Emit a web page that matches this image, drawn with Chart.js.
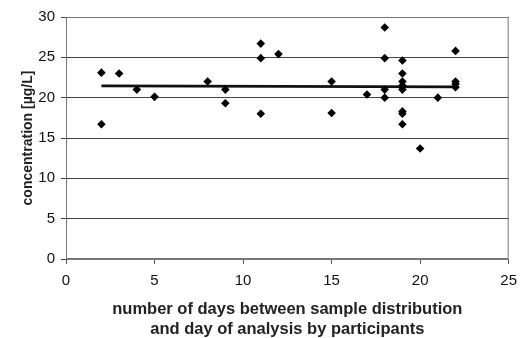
<!DOCTYPE html>
<html><head><meta charset="utf-8">
<script src="https://cdn.jsdelivr.net/npm/chart.js@4/dist/chart.umd.min.js"></script>
<style>html,body{margin:0;padding:0;background:#fff}#wrap{width:525px;height:338px}</style>
</head><body><div id="wrap"><canvas id="c" width="525" height="338"></canvas></div>
<script>
const days = [2,2,3,4,5,8,9,9,11,11,11,12,15,15,17,18,18,18,18,19,19,19,19,19,19,19,19,20,21,22,22,22,22];
const concentration = [23.1,16.7,23.0,21.0,20.1,22.0,21.0,19.3,26.7,24.9,18.0,25.4,22.0,18.1,20.4,28.7,24.9,21.0,20.0,24.6,23.0,22.0,21.0,21.5,18.3,18.0,16.7,13.7,20.0,25.8,22.0,21.7,21.3];
const trendX = [2,22];
const trendY = [21.45,21.35];
const xTicks = [0,5,10,15,20,25];
const yTicks = [0,5,10,15,20,25,30];

const scatterPts = days.map((d,i)=>({x:d,y:concentration[i]}));
const trendPts = trendX.map((d,i)=>({x:d,y:trendY[i]}));

const boxPlugin = {id:'box',afterDraw(ch){const a=ch.chartArea,c=ch.ctx;c.save();c.strokeStyle='#777';c.lineWidth=1;c.strokeRect(a.left+0.5,a.top+0.5,a.right-a.left-1,a.bottom-a.top-1);c.restore();}};

new Chart(document.getElementById('c'),{
  type:'scatter',
  data:{datasets:[
    {data:trendPts,showLine:true,borderColor:'#111',borderWidth:2.8,pointRadius:0,order:2},
    {data:scatterPts,pointStyle:'rectRot',pointRadius:4.3,backgroundColor:'#000',borderColor:'#000',borderWidth:0,order:1}
  ]},
  options:{
    responsive:false,animation:false,
    layout:{padding:{top:17,right:10,left:0,bottom:0}},
    plugins:{legend:{display:false},tooltip:{enabled:false}},
    scales:{
      x:{type:'linear',min:0,max:25,
        afterBuildTicks(s){s.ticks=xTicks.map(v=>({value:v}));},
        afterFit(s){s.height=79;},
        grid:{drawOnChartArea:false,drawTicks:true,tickLength:5,color:'#555'},
        border:{color:'#777'},
        ticks:{color:'#111',font:{family:'Liberation Sans',size:15},padding:8},
        title:{display:true,text:['number of days between sample distribution','and day of analysis by participants'],color:'#222',font:{family:'Liberation Sans',size:16.5,weight:'bold',lineHeight:1.25},padding:{top:0,bottom:-2}}
      },
      y:{min:0,max:30,
        afterBuildTicks(s){s.ticks=yTicks.map(v=>({value:v}));},
        afterFit(s){s.width=66;},
        grid:{color:'#444',lineWidth:1,tickLength:5},
        border:{color:'#777'},
        ticks:{color:'#111',font:{family:'Liberation Sans',size:15},padding:6},
        title:{display:true,text:'concentration [µg/L]',color:'#222',font:{family:'Liberation Sans',size:14,weight:'bold',lineHeight:1.2},padding:{top:20,bottom:0}}
      }
    }
  },
  plugins:[boxPlugin]
});
</script></body></html>
